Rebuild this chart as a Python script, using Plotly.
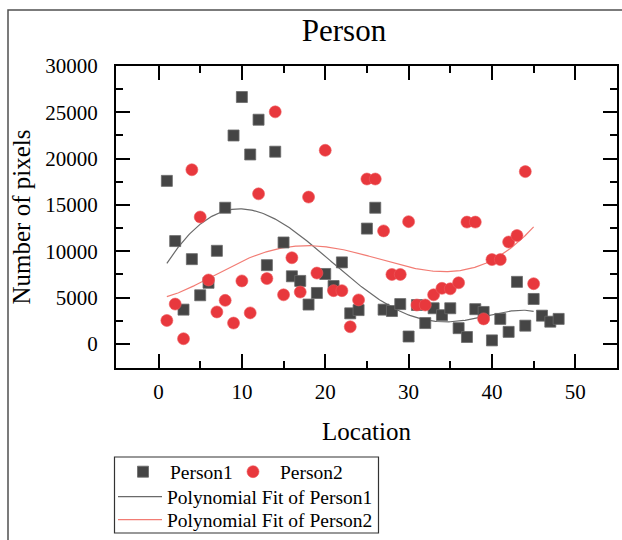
import numpy as np
import plotly.graph_objects as go

# Person1 pixel counts per location
loc1 = list(range(1, 49))
person1 = [17600, 11100, 3700, 9150, 5250, 6600, 10050, 14700, 22500, 26650,
           20450, 24200, 8500, 20750, 10950, 7300, 6800, 4250, 5500, 7550,
           6250, 8800, 3300, 3650, 12450, 14700, 3700, 3550, 4300, 800,
           4200, 2250, 3850, 3100, 3850, 1700, 750, 3750, 3450, 380,
           2700, 1300, 6700, 1970, 4850, 3050, 2400, 2700]

# Person2 pixel counts per location
loc2 = list(range(1, 46))
person2 = [2530, 4300, 560, 18800, 13700, 6900, 3450, 4700, 2250, 6800,
           3350, 16200, 7050, 25050, 5300, 9300, 5600, 15850, 7650, 20900,
           5750, 5750, 1850, 4750, 17800, 17800, 12200, 7500, 7500, 13200,
           4200, 4200, 5300, 6000, 5950, 6600, 13150, 13150, 2700, 9100,
           9100, 11000, 11700, 18600, 6500]

# polynomial order of both fits and the upper end of the fitted curves
fit_degree = 5
fit_x_max = 45

x_tick_vals = [0, 10, 20, 30, 40, 50]
y_tick_vals = [0, 5000, 10000, 15000, 20000, 25000, 30000]

SERIF = "Liberation Serif, Times New Roman, serif"

# figure and plot-area geometry in pixels
W, H = 622, 540
ML, MR, MT, MB = 116, 5, 66, 172
PW, PH = W - ML - MR, H - MT - MB


def px_x(p):
    """pixel column -> paper x"""
    return (p - ML) / PW


def px_y(p):
    """pixel row -> paper y"""
    return (H - MB - p) / PH


def poly_fit(xs, ys, deg, xmax):
    xs = np.asarray(xs, dtype=float)
    ys = np.asarray(ys, dtype=float)
    coef = np.polyfit(xs, ys, deg)
    xf = np.linspace(xs.min(), xmax, 300)
    return xf, np.polyval(coef, xf)


fx1, fy1 = poly_fit(loc1, person1, fit_degree, fit_x_max)
fx2, fy2 = poly_fit(loc2, person2, fit_degree, fit_x_max)

fig = go.Figure()

fig.add_trace(go.Scatter(
    x=fx1, y=fy1, mode="lines", name="Polynomial Fit of Person1",
    line=dict(color="#6a6a6a", width=1.2), legend="legend3"))
fig.add_trace(go.Scatter(
    x=fx2, y=fy2, mode="lines", name="Polynomial Fit of Person2",
    line=dict(color="#f27c74", width=1.2), legend="legend4"))

fig.add_trace(go.Scatter(
    x=loc1, y=person1, mode="markers", name="Person1",
    marker=dict(symbol="square", size=11, color="#454545",
                line=dict(color="#6a6a6a", width=0.8)),
    legend="legend"))
fig.add_trace(go.Scatter(
    x=loc2, y=person2, mode="markers", name="Person2",
    marker=dict(symbol="circle", size=12, color="#e8383d",
                line=dict(color="#ee5a5e", width=0.6)),
    legend="legend2"))

axis_common = dict(
    showline=True, linecolor="black", linewidth=2, mirror="allticks",
    ticks="inside", ticklen=14, tickwidth=2, tickcolor="black",
    showgrid=False, zeroline=False, automargin=False,
    tickfont=dict(family=SERIF, size=21, color="black"),
    minor=dict(ticks="inside", ticklen=7, tickwidth=2, tickcolor="black"),
)

fig.update_xaxes(
    range=[-5.1, 55], tickvals=x_tick_vals,
    minor_dtick=5, ticklabelstandoff=4,
    title=dict(text="Location", font=dict(family=SERIF, size=25, color="black"),
               standoff=19),
    **axis_common)
fig.update_yaxes(
    range=[-2600, 30000], tickvals=y_tick_vals, tickformat="d",
    minor_dtick=2500, ticklabelstandoff=12,
    title=dict(text="Number of pixels", font=dict(family=SERIF, size=25, color="black"),
               standoff=8),
    **axis_common)

legend_font = dict(family=SERIF, size=19.5, color="black")


def legend_box(x_px, y_px):
    return dict(orientation="v", x=px_x(x_px), xanchor="left",
                y=px_y(y_px), yanchor="middle",
                font=legend_font, itemwidth=44, bgcolor="rgba(0,0,0,0)",
                borderwidth=0, tracegroupgap=0)


# outer frame of the figure and the box around the legend entries
fig.add_shape(type="rect", xref="paper", yref="paper",
              x0=px_x(8), x1=px_x(640), y0=px_y(560), y1=px_y(10),
              line=dict(color="#505050", width=1.5), fillcolor="rgba(0,0,0,0)",
              layer="below")
fig.add_shape(type="rect", xref="paper", yref="paper",
              x0=px_x(114.5), x1=px_x(378.5), y0=px_y(533), y1=px_y(457),
              line=dict(color="#333333", width=1.2), fillcolor="rgba(0,0,0,0)")

fig.update_layout(
    width=W, height=H,
    margin=dict(l=ML, r=MR, t=MT, b=MB, autoexpand=False),
    paper_bgcolor="white", plot_bgcolor="white",
    title=dict(text="Person", x=px_x(344), xref="paper", xanchor="center",
               y=1 - 30 / H, yref="container", yanchor="middle",
               font=dict(family=SERIF, size=31, color="black")),
    legend=legend_box(116, 472),
    legend2=legend_box(226, 472),
    legend3=legend_box(113, 497),
    legend4=legend_box(113, 520),
    showlegend=True,
)

fig.write_html("out.html")
